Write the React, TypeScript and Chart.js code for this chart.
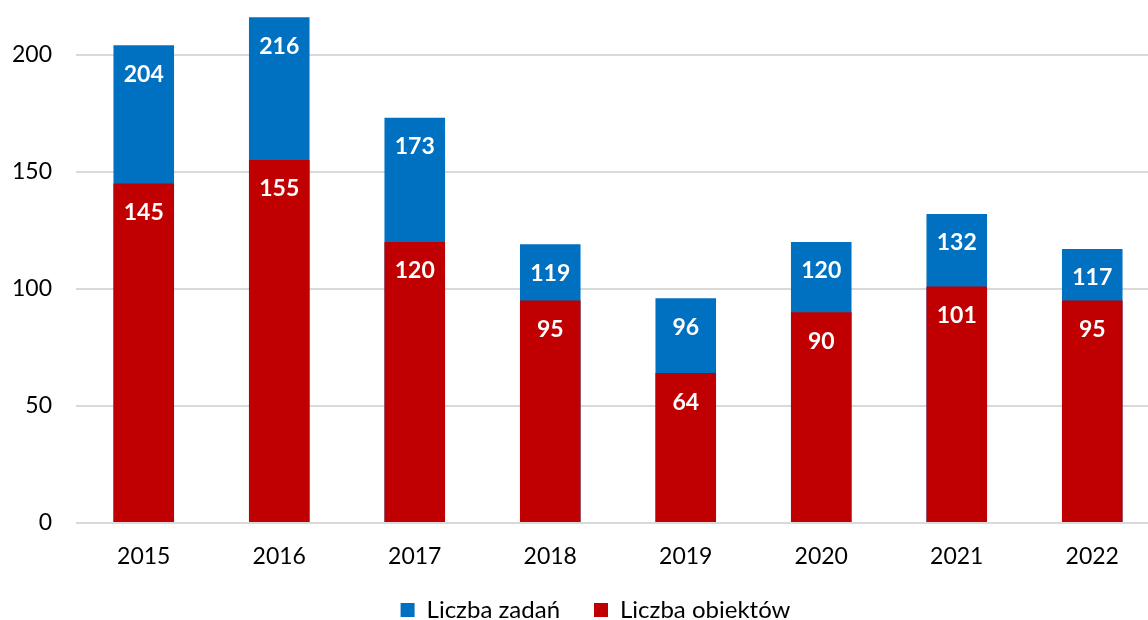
import React, { useEffect, useRef } from "react";
import { Chart, registerables } from "chart.js";

Chart.register(...registerables);

const categories = ["2015", "2016", "2017", "2018", "2019", "2020", "2021", "2022"];
const zadania = [204, 216, 173, 119, 96, 120, 132, 117];
const obiekty = [145, 155, 120, 95, 64, 90, 101, 95];
const yTicks = [0, 50, 100, 150, 200];

const FONT = "Lato, 'Open Sans', sans-serif";

const labelPlugin = {
  id: "barLabels",
  afterDatasetsDraw(chart: any) {
    const ctx = chart.ctx;
    ctx.save();
    ctx.fillStyle = "#ffffff";
    ctx.font = `bold 23px ${FONT}`;
    ctx.textAlign = "center";
    ctx.textBaseline = "middle";
    chart.data.datasets.forEach((ds: any, di: number) => {
      const meta = chart.getDatasetMeta(di);
      meta.data.forEach((bar: any, i: number) => {
        ctx.fillText(String(ds.data[i]), bar.x, bar.y + 29);
      });
    });
    ctx.restore();
  },
};

export default function App() {
  const ref = useRef<HTMLCanvasElement>(null);
  useEffect(() => {
    if (!ref.current) return;
    const chart = new Chart(ref.current, {
      type: "bar",
      data: {
        labels: categories,
        datasets: [
          {
            label: "Liczba obiektów",
            data: obiekty,
            backgroundColor: "#C00000",
            barPercentage: 0.447,
            categoryPercentage: 1,
            grouped: false,
          } as any,
          {
            label: "Liczba zadań",
            data: zadania,
            backgroundColor: "#0070C0",
            barPercentage: 0.447,
            categoryPercentage: 1,
            grouped: false,
          } as any,
        ],
      },
      options: {
        animation: false,
        responsive: false,
        maintainAspectRatio: false,
        layout: { padding: { left: 31, right: 0, top: 8, bottom: 0 } },
        plugins: {
          legend: {
            position: "bottom",
            reverse: true,
            labels: {
              boxWidth: 14,
              boxHeight: 14,
              padding: 34,
              color: "#000",
              font: { family: FONT, size: 24 },
            },
          },
          tooltip: { enabled: false },
        },
        scales: {
          x: {
            grid: { display: false },
            border: { display: false },
            ticks: { color: "#000", padding: 12, font: { family: FONT, size: 23 } },
            afterFit: (scale: any) => {
              scale.height = 41;
            },
          },
          y: {
            min: 0,
            max: 220,
            afterBuildTicks: (scale: any) => {
              scale.ticks = yTicks.map((v) => ({ value: v }));
            },
            afterFit: (scale: any) => {
              scale.width = 45;
              scale._computeLabelArea = () => undefined;
            },
            grid: { color: "#d9d9d9", lineWidth: 2, drawTicks: false },
            border: { display: false },
            ticks: { color: "#000", padding: 24, font: { family: FONT, size: 23 } },
          },
        },
      },
      plugins: [labelPlugin],
    });
    return () => chart.destroy();
  }, []);
  return (
    <div style={{ position: "fixed", left: 0, top: 0, width: 1148, height: 620, overflow: "hidden", background: "#fff" }}>
      <canvas
        ref={ref}
        width={1160}
        height={662}
        style={{ position: "absolute", left: 0, top: -30, display: "block", width: 1160, height: 662 }}
      />
    </div>
  );
}
